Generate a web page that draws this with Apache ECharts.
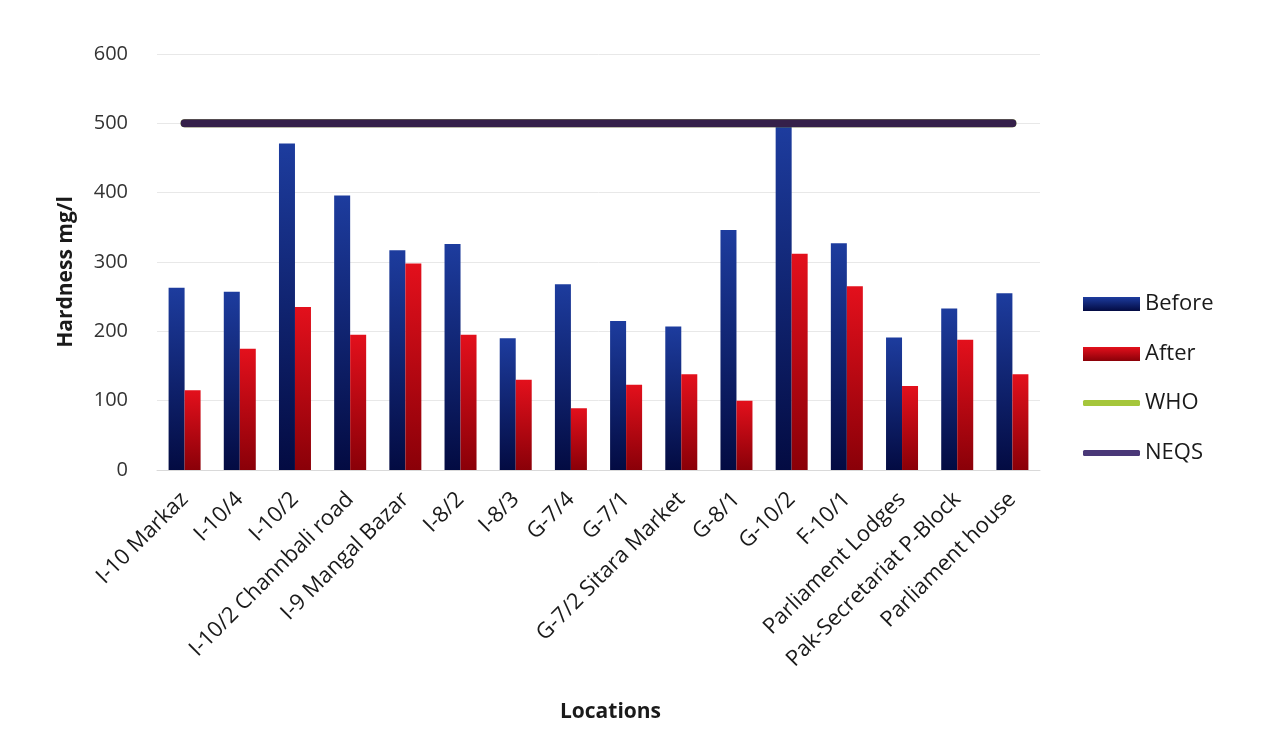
<!DOCTYPE html>
<html>
<head>
<meta charset="utf-8">
<script src="https://cdn.jsdelivr.net/npm/echarts@6/dist/echarts.min.js"></script>
<style>
html,body{margin:0;padding:0;background:#fff;}
#chart{width:1264px;height:753px;}
</style>
</head>
<body>
<div id="chart"></div>
<script>
var categories = ["I-10 Markaz","I-10/4","I-10/2","I-10/2 Channbali road","I-9 Mangal Bazar","I-8/2","I-8/3","G-7/4","G-7/1","G-7/2 Sitara Market","G-8/1","G-10/2","F-10/1","Parliament Lodges","Pak-Secretariat P-Block","Parliament house"];
var beforeValues = [263, 257, 471, 396, 317, 326, 190, 268, 215, 207, 346, 495, 327, 191, 233, 255];
var afterValues  = [115, 175, 235, 195, 298, 195, 130, 89, 123, 138, 100, 312, 265, 121, 188, 138];
var whoValues  = [500,500,500,500,500,500,500,500,500,500,500,500,500,500,500,500];
var neqsValues = [500,500,500,500,500,500,500,500,500,500,500,500,500,500,500,500];
var yTicks = [0, 100, 200, 300, 400, 500, 600];

var chart = echarts.init(document.getElementById('chart'));
var font = '"Open Sans", "Liberation Sans", sans-serif';
chart.setOption({
  backgroundColor: '#ffffff',
  animation: false,
  textStyle: {fontFamily: font},
  grid: {left: 157, right: 224, top: 54, bottom: 283, containLabel: false},
  legend: [{
    orient: 'vertical', left: 1083, top: 293, padding: 0,
    itemWidth: 57, itemHeight: 14, itemGap: 28,
    icon: 'rect',
    textStyle: {fontSize: 22, color: '#1a1a1a', fontFamily: font, padding: [0,0,0,0]},
    data: ['Before', 'After']
  },{
    orient: 'vertical', left: 1083, top: 392, padding: 0,
    itemWidth: 57, itemHeight: 6, itemGap: 28,
    icon: 'roundRect',
    textStyle: {fontSize: 22, color: '#1a1a1a', fontFamily: font, padding: [0,0,0,0]},
    data: ['WHO', 'NEQS']
  }],
  xAxis: {
    type: 'category',
    data: categories,
    name: 'Locations',
    nameLocation: 'middle',
    nameGap: 232,
    nameTextStyle: {fontSize: 21, fontWeight: 'bold', color: '#1a1a1a', fontFamily: font, padding: [0,0,0,24]},
    axisLine: {show: true, lineStyle: {color: '#d9d9d9'}},
    axisTick: {show: false},
    axisLabel: {interval: 0, rotate: 45, fontSize: 22, color: '#1a1a1a', margin: 26, fontFamily: font}
  },
  yAxis: {
    type: 'value',
    min: yTicks[0], max: yTicks[yTicks.length-1], interval: 100,
    name: 'Hardness mg/l',
    nameLocation: 'middle',
    nameRotate: 90,
    nameGap: 80,
    nameTextStyle: {fontSize: 21, fontWeight: 'bold', color: '#1a1a1a', fontFamily: font, padding: [0,0,0,-20]},
    axisLine: {show: false},
    axisTick: {show: false},
    axisLabel: {fontSize: 20, color: '#333', margin: 29, fontFamily: font},
    splitLine: {lineStyle: {color: '#e8e8e8'}}
  },
  series: [{
    name: 'Before', type: 'bar', data: beforeValues,
    barWidth: 16, barGap: '0%',
    itemStyle: {color: new echarts.graphic.LinearGradient(0,0,0,1,[{offset:0,color:'#1d3c9e'},{offset:1,color:'#030b42'}])},
    z: 2
  },{
    name: 'After', type: 'bar', data: afterValues,
    barWidth: 16, barGap: '0%',
    itemStyle: {color: new echarts.graphic.LinearGradient(0,0,0,1,[{offset:0,color:'#e3101c'},{offset:1,color:'#8a0008'}])},
    z: 2
  },{
    name: 'WHO', type: 'line', data: whoValues,
    symbol: 'none',
    lineStyle: {width: 8, color: '#a5c63b', cap: 'round'},
    itemStyle: {color: '#a5c63b'},
    z: 3
  },{
    name: 'NEQS', type: 'line', data: neqsValues,
    symbol: 'none',
    lineStyle: {width: 8, color: '#35204a', cap: 'round'},
    itemStyle: {color: '#4a3878'},
    z: 4
  }]
});
</script>
</body>
</html>
